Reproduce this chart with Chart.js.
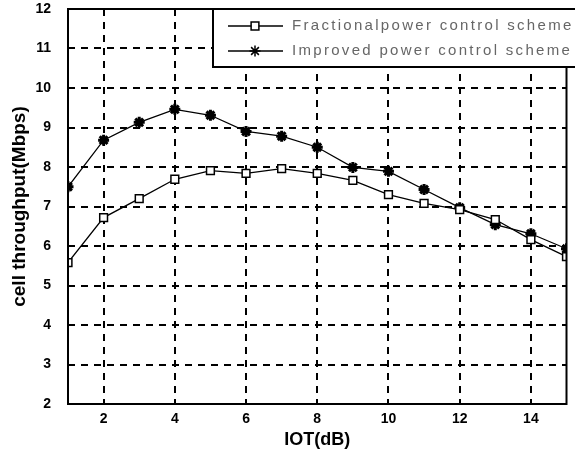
<!DOCTYPE html>
<html>
<head>
<meta charset="utf-8">
<script src="https://cdn.jsdelivr.net/npm/chart.js@4/dist/chart.umd.min.js"></script>
<style>
  html, body { margin: 0; padding: 0; background: #fff; }
  #wrap { width: 575px; height: 458px; }
</style>
</head>
<body>
<div id="wrap"><canvas id="chart"></canvas></div>
<script>
// Datos de la figura
const iotValues = [1, 2, 3, 4, 5, 6, 7, 8, 9, 10, 11, 12, 13, 14, 15];
const fractionalValues = [5.58, 6.72, 7.2, 7.69, 7.91, 7.84, 7.96, 7.84, 7.66, 7.3, 7.08, 6.92, 6.67, 6.16, 5.73];
const improvedValues = [7.5, 8.68, 9.13, 9.46, 9.31, 8.9, 8.78, 8.5, 7.99, 7.89, 7.43, 6.97, 6.54, 6.31, 5.93];
const xTicks = [2, 4, 6, 8, 10, 12, 14];
const yTicks = [2, 3, 4, 5, 6, 7, 8, 9, 10, 11, 12];
const seriesNames = ["Fractionalpower control scheme", "Improved power control scheme"];

const tickFont = { family: "'Liberation Sans', Arial", size: 14, weight: "bold" };

// Marco negro alrededor del area del grafico
const frameBox = {
    id: "frameBox",
    afterDatasetsDraw(chart) {
        const { ctx, chartArea: a } = chart;
        ctx.save();
        ctx.strokeStyle = "#000";
        ctx.lineWidth = 2;
        ctx.strokeRect(a.left, a.top, a.right - a.left, a.bottom - a.top);
        ctx.restore();
    }
};

// Leyenda dentro del grafico, arriba a la derecha
const insideLegend = {
    id: "insideLegend",
    afterDraw(chart) {
        const { ctx, chartArea: a } = chart;
        const x0 = 213, y0 = a.top, w = 400, h = 58;
        ctx.save();
        ctx.fillStyle = "#fff";
        ctx.fillRect(x0, y0, w, h);
        ctx.strokeStyle = "#000";
        ctx.lineWidth = 2;
        ctx.strokeRect(x0, y0, w, h);
        chart.data.datasets.forEach((ds, i) => {
            const y = y0 + 17 + i * 25;
            ctx.strokeStyle = "#000";
            ctx.lineWidth = 1.5;
            ctx.beginPath();
            ctx.moveTo(228, y);
            ctx.lineTo(283, y);
            ctx.stroke();
            ctx.fillStyle = ds.backgroundColor;
            Chart.helpers.drawPoint(ctx, {
                pointStyle: ds.pointStyle, radius: ds.pointRadius, borderWidth: ds.pointBorderWidth
            }, 255, y);
            ctx.fillStyle = "#666";
            ctx.font = "15px 'Liberation Sans', Arial";
            ctx.letterSpacing = "2.3px";
            ctx.textBaseline = "middle";
            ctx.fillText(ds.label, 292, y);
        });
        ctx.restore();
    }
};

const ctxChart = document.getElementById("chart").getContext("2d");
new Chart(ctxChart, {
    type: "line",
    data: {
        datasets: [{
            label: seriesNames[0],
            data: iotValues.map((x, i) => ({ x: x, y: fractionalValues[i] })),
            borderColor: "#000",
            backgroundColor: "#fff",
            borderWidth: 1.3,
            pointStyle: "rect",
            pointRadius: 5.5,
            pointBorderWidth: 1.5,
            tension: 0
        }, {
            label: seriesNames[1],
            data: iotValues.map((x, i) => ({ x: x, y: improvedValues[i] })),
            borderColor: "#000",
            backgroundColor: "#000",
            borderWidth: 1.3,
            pointStyle: "star",
            pointRadius: 5.5,
            pointBorderWidth: 3,
            tension: 0
        }]
    },
    options: {
        responsive: true,
        maintainAspectRatio: false,
        animation: false,
        layout: { padding: { left: 0, right: 2, top: 1, bottom: 0 } },
        plugins: {
            legend: { display: false },
            tooltip: { enabled: false }
        },
        scales: {
            x: {
                type: "linear",
                min: 1,
                max: 15,
                afterBuildTicks: s => { s.ticks = xTicks.map(v => ({ value: v })); },
                afterFit: s => { s.height = 54; },
                grid: { color: "#000", lineWidth: 2, drawTicks: false },
                border: { display: false, dash: [7, 6] },
                ticks: { color: "#000", font: tickFont, padding: 7, maxRotation: 0 },
                title: {
                    display: true, text: "IOT(dB)", color: "#000",
                    font: { family: "'Liberation Sans', Arial", size: 18, weight: "bold" },
                    padding: { top: 0, bottom: 7 }
                }
            },
            y: {
                min: 2,
                max: 12,
                afterBuildTicks: s => { s.ticks = yTicks.map(v => ({ value: v })); },
                afterFit: s => { s.width = 68; s.paddingTop = 9; s.paddingBottom = 0; },
                grid: { color: "#000", lineWidth: 2, drawTicks: false },
                border: { display: false, dash: [7, 6] },
                ticks: { color: "#000", font: tickFont, padding: 17 },
                title: {
                    display: true, text: "cell throughput(Mbps)", color: "#000",
                    font: { family: "'Liberation Sans', Arial", size: 19, weight: "bold" },
                    padding: { top: 8, bottom: 0 }
                }
            }
        }
    },
    plugins: [frameBox, insideLegend]
});
</script>
</body>
</html>
